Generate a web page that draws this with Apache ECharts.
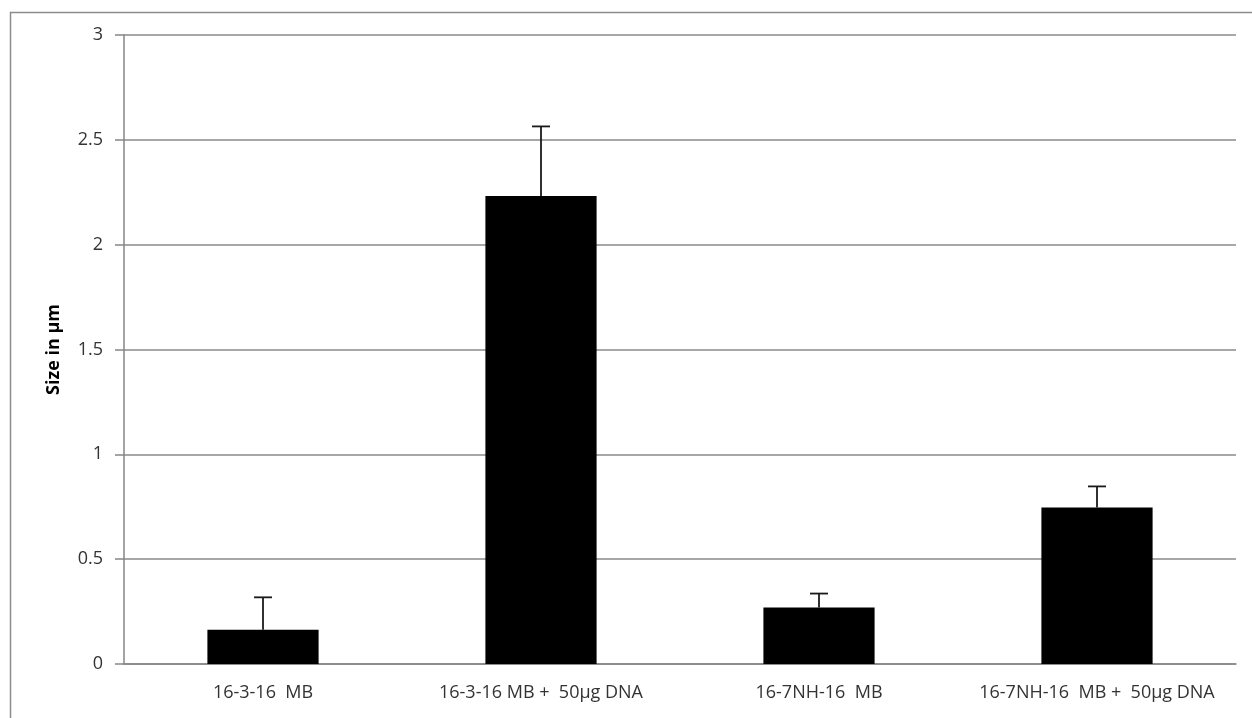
<!DOCTYPE html>
<html>
<head>
<meta charset="utf-8">
<script src="https://cdn.jsdelivr.net/npm/echarts@6/dist/echarts.min.js"></script>
<style>
  html, body { margin: 0; padding: 0; background: #fff; }
  #chart { width: 1252px; height: 718px; }
</style>
</head>
<body>
<div id="chart"></div>
<script>
// Mean particle size per sample with the upper standard-deviation whisker
const categories = ['16-3-16  MB', '16-3-16 MB +  50µg DNA', '16-7NH-16  MB', '16-7NH-16  MB +  50µg DNA'];
const sizes = [0.163, 2.232, 0.270, 0.747];
const errors = [0.155, 0.332, 0.066, 0.100];
const yTicks = [0, 0.5, 1, 1.5, 2, 2.5, 3];

const chart = echarts.init(document.getElementById('chart'), null, { renderer: 'canvas' });

const labelFont = '"Open Sans", "Liberation Sans", sans-serif';

chart.setOption({
  animation: false,
  backgroundColor: '#ffffff',
  graphic: [{
    type: 'rect',
    left: 8, top: 10,
    shape: { width: 1270, height: 740 },
    style: { fill: 'none', stroke: '#8c8c8c', lineWidth: 1.5 },
    silent: true
  }],
  grid: { left: 124, right: 16, top: 35, bottom: 54 },
  xAxis: {
    type: 'category',
    data: categories,
    axisLine: { lineStyle: { color: '#868686', width: 1.5 } },
    axisTick: { show: false },
    axisLabel: {
      interval: 0, hideOverlap: false,
      color: '#333333', fontFamily: labelFont, fontSize: 18, margin: 20
    }
  },
  yAxis: {
    type: 'value',
    min: yTicks[0],
    max: yTicks[yTicks.length - 1],
    interval: 0.5,
    name: 'Size in µm',
    nameLocation: 'middle',
    nameGap: 61,
    nameTextStyle: { color: '#000', fontFamily: labelFont, fontWeight: 'bold', fontSize: 18 },
    axisLine: { show: true, lineStyle: { color: '#868686', width: 1.5 } },
    axisTick: { show: true, length: 9, lineStyle: { color: '#868686', width: 1.5 } },
    splitLine: { lineStyle: { color: '#8a8a8a', width: 1.5 } },
    axisLabel: { color: '#333333', fontFamily: labelFont, fontSize: 18, margin: 21 }
  },
  series: [
    {
      type: 'bar',
      data: sizes,
      barWidth: '40%',
      itemStyle: { color: '#000000' }
    },
    {
      type: 'custom',
      data: sizes.map((v, i) => [i, v, v + errors[i]]),
      z: 5,
      renderItem: function (params, api) {
        const base = api.coord([api.value(0), api.value(1)]);
        const top = api.coord([api.value(0), api.value(2)]);
        const half = 9;
        return {
          type: 'group',
          children: [
            { type: 'line', shape: { x1: base[0], y1: base[1], x2: top[0], y2: top[1] },
              style: { stroke: '#1a1a1a', lineWidth: 1.8 } },
            { type: 'line', shape: { x1: top[0] - half, y1: top[1], x2: top[0] + half, y2: top[1] },
              style: { stroke: '#1a1a1a', lineWidth: 1.8 } }
          ]
        };
      }
    }
  ]
});
</script>
</body>
</html>
